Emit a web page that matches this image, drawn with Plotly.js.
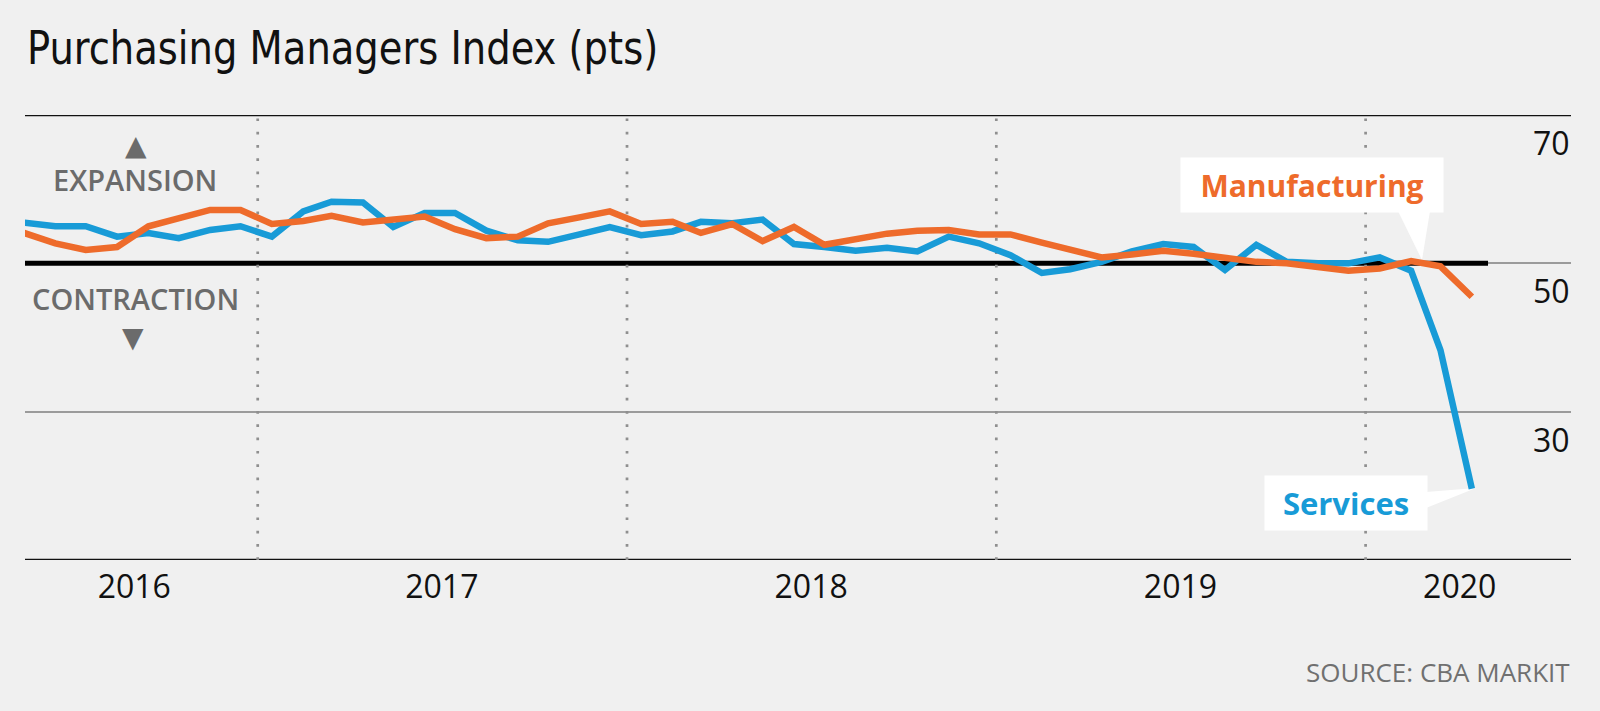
<!DOCTYPE html>
<html><head><meta charset="utf-8">
<script src="https://cdn.plot.ly/plotly-3.0.1.min.js"></script>
<style>html,body{margin:0;padding:0;background:#f0f0f0;} #chart{width:1600px;height:711px;}</style>
</head><body><div id="chart"></div>
<script>
const months = [
 '2016-05-15','2016-06-15','2016-07-15','2016-08-15','2016-09-15','2016-10-15','2016-11-15','2016-12-15',
 '2017-01-15','2017-02-15','2017-03-15','2017-04-15','2017-05-15','2017-06-15','2017-07-15','2017-08-15','2017-09-15','2017-10-15','2017-11-15','2017-12-15',
 '2018-01-15','2018-02-15','2018-03-15','2018-04-15','2018-05-15','2018-06-15','2018-07-15','2018-08-15','2018-09-15','2018-10-15','2018-11-15','2018-12-15',
 '2019-01-15','2019-02-15','2019-03-15','2019-04-15','2019-05-15','2019-06-15','2019-07-15','2019-08-15','2019-09-15','2019-10-15','2019-11-15','2019-12-15',
 '2020-01-15','2020-02-15','2020-03-15','2020-04-15'];
const services = [
 55.5,55.0,55.0,53.6,54.1,53.4,54.5,55.0,
 53.6,57.0,58.3,58.2,54.9,56.8,56.8,54.4,53.1,52.9,53.9,54.9,
 53.8,54.3,55.6,55.4,55.9,52.6,52.2,51.7,52.1,51.6,53.6,52.7,
 51.1,48.7,49.2,50.2,51.6,52.6,52.2,49.1,52.5,50.2,50.0,50.0,
 50.8,49.0,38.3,19.6];
const manufacturing = [
 54.1,52.7,51.8,52.2,55.0,56.1,57.2,57.2,
 55.3,55.7,56.4,55.5,55.8,56.3,54.6,53.4,53.6,55.4,56.2,57.0,
 55.3,55.6,54.1,55.3,53.0,54.9,52.5,53.2,54.0,54.4,54.5,53.9,
 53.9,52.8,51.9,50.8,51.2,51.7,51.3,50.8,50.2,50.0,49.6,49.0,
 49.3,50.3,49.6,45.5];
const yearLabels = ['2016','2017','2018','2019','2020'];
const yearLabelDates = ['2016-09-01','2017-07-02','2018-07-02','2019-07-02','2020-04-03'];
const yearBoundaries = ['2017-01-01','2018-01-01','2019-01-01','2020-01-01'];
const yTickVals = [70,50,30];
const xRange = ['2016-05-16','2020-07-22'];

const BLUE = '#189bd7', ORANGE = '#ee6b2b', GREY = '#6b6b6b';
// plot-area pixel helpers for decorations (plot spans x 25..1571, y 115..560)
const L = 25, R = 1571, T = 115, B = 560;
const px = v => (v - L) / (R - L);
const py = v => (B - v) / (B - T);

const traces = [
 {x: months, y: services, type: 'scatter', mode: 'lines', name: 'Services',
  line: {color: BLUE, width: 6.5}, hoverinfo: 'skip'},
 {x: months, y: manufacturing, type: 'scatter', mode: 'lines', name: 'Manufacturing',
  line: {color: ORANGE, width: 6.5}, hoverinfo: 'skip'}
];

const shapes = [
 {type:'line', xref:'paper', x0:0, x1:1, yref:'y', y0:70, y1:70, line:{color:'#111', width:2.5}, layer:'between'},
 {type:'line', xref:'paper', x0:0, x1:1, yref:'y', y0:10, y1:10, line:{color:'#111', width:2.5}, layer:'between'},
 {type:'line', xref:'x', x0:xRange[0], x1:'2020-05-01', yref:'y', y0:50, y1:50, line:{color:'#000', width:5}, layer:'between'},
 // pointer wedges
 {type:'path', xref:'paper', yref:'paper', layer:'between', fillcolor:'#ffffff', line:{width:0},
  path:`M ${px(1398)},${py(211)} L ${px(1422)},${py(260)} L ${px(1430)},${py(211)} Z`},
 {type:'path', xref:'paper', yref:'paper', layer:'between', fillcolor:'#ffffff', line:{width:0},
  path:`M ${px(1426)},${py(492)} L ${px(1476)},${py(488)} L ${px(1426)},${py(508)} Z`}
];
yearBoundaries.forEach(d => shapes.push(
 {type:'line', xref:'x', x0:d, x1:d, yref:'y', y0:10, y1:70,
  line:{color:'#8f8f8f', width:2.7, dash:'2.7px,10.6px'}, layer:'between'}));

const annotations = [];
yTickVals.forEach(v => annotations.push({
 xref:'paper', x:1, xanchor:'right', xshift:1, yref:'y', y:v, yanchor:'top', yshift:-4,
 text:String(v), showarrow:false, font:{family:'Open Sans', size:32, color:'#111'}}));
const mid = {xanchor:'center', yanchor:'middle', showarrow:false, xref:'paper', yref:'paper'};
annotations.push(
 Object.assign({x:px(135), y:py(179), text:'EXPANSION',
  font:{family:'Open Sans', size:29, weight:600, color:GREY}}, mid),
 Object.assign({x:px(135), y:py(298), text:'CONTRACTION',
  font:{family:'Open Sans', size:29, weight:600, color:GREY}}, mid),
 Object.assign({x:px(136), y:py(145), text:'▲',
  font:{family:'DejaVu Sans', size:28, color:GREY}}, mid),
 Object.assign({x:px(133), y:py(337), text:'▼',
  font:{family:'DejaVu Sans', size:28, color:GREY}}, mid),
 Object.assign({x:px(1312), y:py(185), text:'<b>Manufacturing</b>',
  width:258, height:50, bgcolor:'#ffffff', borderpad:2,
  font:{family:'Open Sans', size:30, color:ORANGE}}, mid),
 Object.assign({x:px(1346), y:py(503), text:'<b>Services</b>',
  width:158, height:50, bgcolor:'#ffffff', borderpad:2,
  font:{family:'Open Sans', size:31, color:BLUE}}, mid),
 {xref:'paper', yref:'paper', x:1, xanchor:'right', xshift:1, y:py(672), yanchor:'middle',
  text:'SOURCE: CBA MARKIT', showarrow:false,
  font:{family:'Open Sans', size:26, color:'#707070'}}
);

const layout = {
 width:1600, height:711,
 margin:{l:L, r:1600-R, t:T, b:711-B, pad:0},
 paper_bgcolor:'#f0f0f0', plot_bgcolor:'#f0f0f0',
 showlegend:false,
 title:{text:'Purchasing Managers Index (pts)', xref:'container', yref:'container',
  x:27/1600, xanchor:'left', y:1-48/711, yanchor:'middle',
  font:{family:'DejaVu Sans Condensed, sans-serif', size:46, color:'#111'}},
 xaxis:{type:'date', range:xRange, showgrid:false, zeroline:false, showline:false,
  tickmode:'array', tickvals:yearLabelDates, ticktext:yearLabels, ticks:'', ticklabelstandoff:5,
  tickfont:{family:'Open Sans', size:32, color:'#111'}, fixedrange:true},
 yaxis:{range:[10,70], tickmode:'array', tickvals:[10,30,50,70], showticklabels:false,
  showgrid:true, gridcolor:'#9b9b9b', gridwidth:2, zeroline:false, showline:false, ticks:'', fixedrange:true},
 shapes:shapes, annotations:annotations
};

Plotly.newPlot('chart', traces, layout, {displayModeBar:false, staticPlot:true}).then(() => {
 // narrow the title horizontally to match the condensed headline face
 const t = document.querySelector('.gtitle');
 if (t) t.setAttribute('transform', 'translate(27,0) scale(0.93,1) translate(-27,0)');
});
</script>
</body></html>
